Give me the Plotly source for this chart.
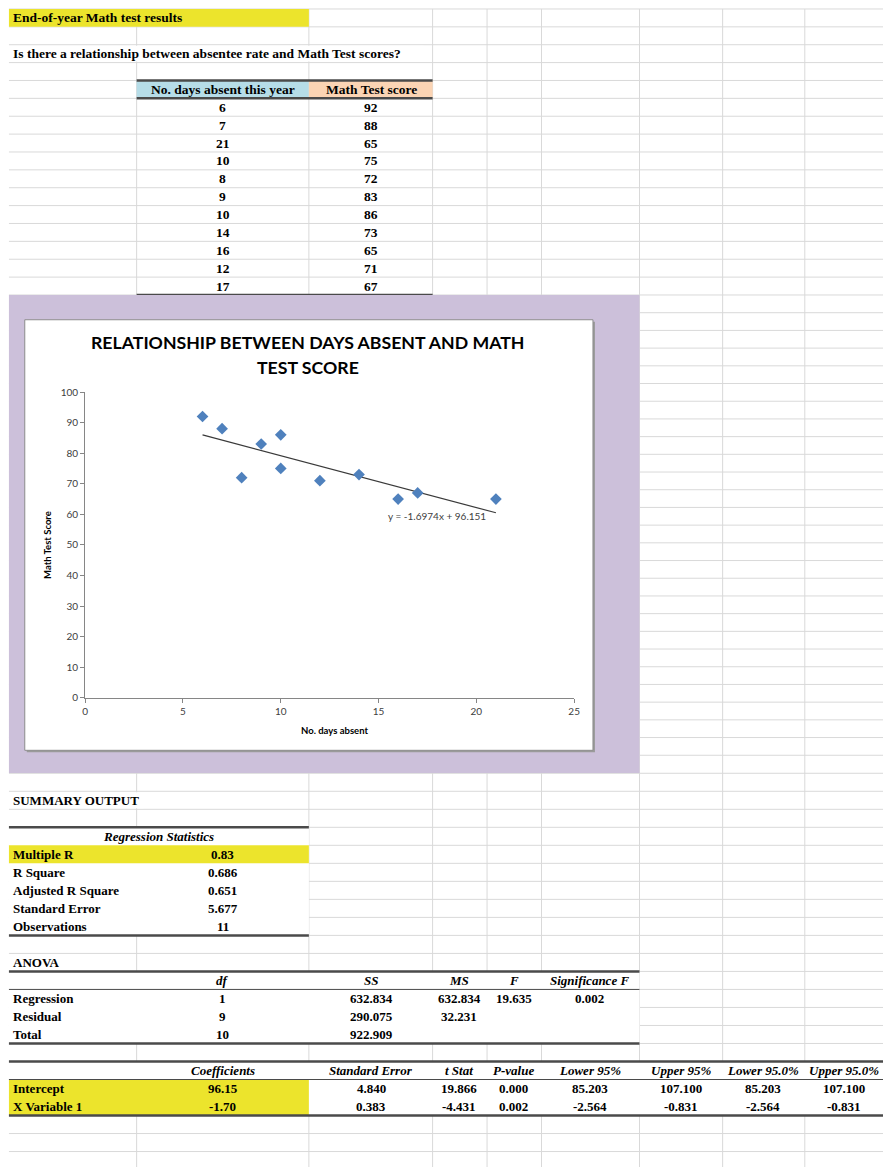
import plotly.graph_objects as go

W, H = 889, 1173

# ---------------- data ----------------
sheet_title = "End-of-year Math test results"
question_text = "Is there a relationship between absentee rate and Math Test scores?"
col_headers = ["No. days absent this year", "Math Test score"]
days_absent = [6, 7, 21, 10, 8, 9, 10, 14, 16, 12, 17]
math_scores = [92, 88, 65, 75, 72, 83, 86, 73, 65, 71, 67]

chart_title_lines = ["RELATIONSHIP BETWEEN DAYS ABSENT AND MATH", "TEST SCORE"]
x_title = "No. days absent"
y_title = "Math Test Score"
x_ticks = [0, 5, 10, 15, 20, 25]
y_ticks = [0, 10, 20, 30, 40, 50, 60, 70, 80, 90, 100]
trend_x = [6, 21]
trend_y = [85.97, 60.51]
trend_label = "y = -1.6974x + 96.151"

summary_title = "SUMMARY OUTPUT"
reg_header = "Regression Statistics"
reg_labels = ["Multiple R", "R Square", "Adjusted R Square", "Standard Error", "Observations"]
reg_values = ["0.83", "0.686", "0.651", "5.677", "11"]

anova_title = "ANOVA"
anova_headers = ["df", "SS", "MS", "F", "Significance F"]
anova_labels = ["Regression", "Residual", "Total"]
anova_df = ["1", "9", "10"]
anova_ss = ["632.834", "290.075", "922.909"]
anova_ms = ["632.834", "32.231", ""]
anova_f = ["19.635", "", ""]
anova_sig = ["0.002", "", ""]

coef_headers = ["Coefficients", "Standard Error", "t Stat", "P-value",
                "Lower 95%", "Upper 95%", "Lower 95.0%", "Upper 95.0%"]
coef_labels = ["Intercept", "X Variable 1"]
coef_intercept = ["96.15", "4.840", "19.866", "0.000", "85.203", "107.100", "85.203", "107.100"]
coef_xvar = ["-1.70", "0.383", "-4.431", "0.002", "-2.564", "-0.831", "-2.564", "-0.831"]

# ---------------- helpers ----------------
def px(x):
    return x / W

def py(y):
    return 1 - y / H

shapes = []
annotations = []

def hline(x0, x1, y, color="#d9d9d9", width=1):
    shapes.append(dict(type="line", xref="paper", yref="paper", layer="below",
                       x0=px(x0), x1=px(x1), y0=py(y), y1=py(y),
                       line=dict(color=color, width=width)))

def vline(x, y0, y1, color="#d9d9d9", width=1):
    shapes.append(dict(type="line", xref="paper", yref="paper", layer="below",
                       x0=px(x), x1=px(x), y0=py(y0), y1=py(y1),
                       line=dict(color=color, width=width)))

def rect(x0, y0, x1, y1, fill, line_color=None, line_width=0):
    shapes.append(dict(type="rect", xref="paper", yref="paper", layer="below",
                       x0=px(x0), x1=px(x1), y0=py(y1), y1=py(y0),
                       fillcolor=fill,
                       line=dict(color=line_color or fill, width=line_width)))

SERIF = "Liberation Serif"
SANS = "Lato"

def text(x, y, s, anchor="center", size=13.5, bold=True, italic=False,
         family=SERIF, color="#000000", angle=0):
    t = s
    if bold:
        t = "<b>" + t + "</b>"
    if italic:
        t = "<i>" + t + "</i>"
    annotations.append(dict(xref="paper", yref="paper", x=px(x), y=py(y),
                            text=t, showarrow=False, xanchor=anchor, yanchor="middle",
                            textangle=angle,
                            font=dict(family=family, size=size, color=color)))

# ---------------- grid ----------------
col_x = [135, 309, 434, 489, 544, 643, 727, 810]
upper_rows = [3 + 18.06 * k for k in range(17)]
mid_rows = [292 + (757 - 292) / 26 * k for k in range(1, 26)]
lower_rows = [757 + 18.2 * j for j in range(24) if 757 + 18.2 * j < H]
for y in upper_rows + mid_rows + lower_rows:
    hline(6, W, y)
for x in col_x:
    vline(x, 3, H)

def row_top(k):
    return upper_rows[k]

def lrow(j):
    return 757 + 18.2 * j

# overflow text cover
rect(128, row_top(2) + 1, 425, row_top(3) - 1, "#ffffff")
rect(128, lrow(2) + 1, 142, lrow(3) - 1, "#ffffff")

# title fill
rect(6, row_top(0), 309, row_top(1), "#ece42c")

# data table header fills
rect(135, row_top(4), 309, row_top(5), "#b6dde8")
rect(309, row_top(4), 434, row_top(5), "#fbd4b4")
hline(135, 434, row_top(4), "#4a4a4a", 2.5)
hline(135, 434, row_top(5), "#4a4a4a", 2.5)
hline(135, 434, row_top(16), "#4a4a4a", 2.5)

# purple chart background
rect(6, 292, 643, 775, "#ccc0da")
rect(24, 319, 598, 754, "#9a9a9a")
rect(22, 317, 596, 752, "#ffffff", "#8c8c8c", 1)

# regression statistics table
rect(6, lrow(4), 309, lrow(10), "#ffffff")
rect(6, lrow(5), 309, lrow(6), "#ece42c")
hline(6, 309, lrow(4), "#4a4a4a", 2.5)
hline(6, 309, lrow(10), "#4a4a4a", 2.5)

# anova table
rect(6, lrow(12), 643, lrow(16), "#ffffff")
hline(6, 643, lrow(12), "#4a4a4a", 2.5)
hline(6, 643, lrow(13), "#4a4a4a", 1)
hline(6, 643, lrow(16), "#4a4a4a", 2.5)

# coefficients table
rect(6, lrow(17), W, lrow(20), "#ffffff")
rect(6, lrow(18), 309, lrow(20), "#ece42c")
hline(6, W, lrow(17), "#4a4a4a", 2.5)
hline(6, W, lrow(18), "#4a4a4a", 1)
hline(6, W, lrow(20), "#4a4a4a", 2.5)

# ---------------- texts ----------------
def mid(a, b):
    return (a + b) / 2

text(8, mid(row_top(0), row_top(1)), sheet_title, anchor="left")
text(8, mid(row_top(2), row_top(3)), question_text, anchor="left")
text(222, mid(row_top(4), row_top(5)), col_headers[0])
text(372, mid(row_top(4), row_top(5)), col_headers[1])
for i, (d, s) in enumerate(zip(days_absent, math_scores)):
    yc = mid(row_top(5 + i), row_top(6 + i))
    text(222, yc, str(d))
    text(372, yc, str(s))

LS = 13
text(8, mid(lrow(2), lrow(3)), summary_title, anchor="left", size=LS)
text(157, mid(lrow(4), lrow(5)), reg_header, italic=True, size=LS)
for i, (lab, val) in enumerate(zip(reg_labels, reg_values)):
    yc = mid(lrow(5 + i), lrow(6 + i))
    text(8, yc, lab, anchor="left", size=LS)
    text(222, yc, val, size=LS)

anova_cx = [222, 372, 461, 516, 593]
text(8, mid(lrow(11), lrow(12)), anova_title, anchor="left", size=LS)
for cx, hd in zip(anova_cx, anova_headers):
    text(cx, mid(lrow(12), lrow(13)), hd, italic=True, size=LS)
for i, lab in enumerate(anova_labels):
    yc = mid(lrow(13 + i), lrow(14 + i))
    text(8, yc, lab, anchor="left", size=LS)
    for cx, col in zip(anova_cx, [anova_df, anova_ss, anova_ms, anova_f, anova_sig]):
        if col[i]:
            text(cx, yc, col[i], size=LS)

coef_cx = [222, 372, 461, 516, 593, 685, 768, 850]
for cx, hd in zip(coef_cx, coef_headers):
    text(cx, mid(lrow(17), lrow(18)), hd, italic=True, size=LS)
for i, (lab, vals) in enumerate(zip(coef_labels, [coef_intercept, coef_xvar])):
    yc = mid(lrow(18 + i), lrow(19 + i))
    text(8, yc, lab, anchor="left", size=LS)
    for cx, v in zip(coef_cx, vals):
        text(cx, yc, v, size=LS)

# chart texts
text(308, 340, chart_title_lines[0], size=17.7, family=SANS)
text(308, 365, chart_title_lines[1], size=17.7, family=SANS)
text(45, 545, y_title, size=9.5, family=SANS, angle=-90)
text(335, 732, x_title, size=9.5, family=SANS)
text(438, 515, trend_label, size=10, bold=False, family=SANS, color="#404040")

# ---------------- traces ----------------
fig = go.Figure()
fig.add_trace(go.Scatter(x=trend_x, y=trend_y, mode="lines",
                         line=dict(color="#3a3a3a", width=1.2), showlegend=False,
                         hoverinfo="skip"))
fig.add_trace(go.Scatter(x=days_absent, y=math_scores, mode="markers",
                         marker=dict(symbol="diamond", size=9, color="#4f81bd"),
                         showlegend=False))

axis_common = dict(showgrid=False, zeroline=False, showline=True, linecolor="#868686",
                   linewidth=1, ticks="outside", ticklen=4, tickcolor="#868686",
                   tickfont=dict(family=SANS, size=10, color="#404040"))
fig.update_layout(
    width=W, height=H,
    margin=dict(l=0, r=0, t=0, b=0),
    paper_bgcolor="#ffffff",
    plot_bgcolor="rgba(0,0,0,0)",
    shapes=shapes,
    annotations=annotations,
    xaxis=dict(domain=[px(83), px(577)], range=[0, 25], tickvals=x_ticks, **axis_common),
    yaxis=dict(domain=[py(699), py(390)], range=[0, 100], tickvals=y_ticks, **axis_common),
)

fig.write_html("out.html", config={"displayModeBar": False},
               post_script="document.body.style.margin='0';")
